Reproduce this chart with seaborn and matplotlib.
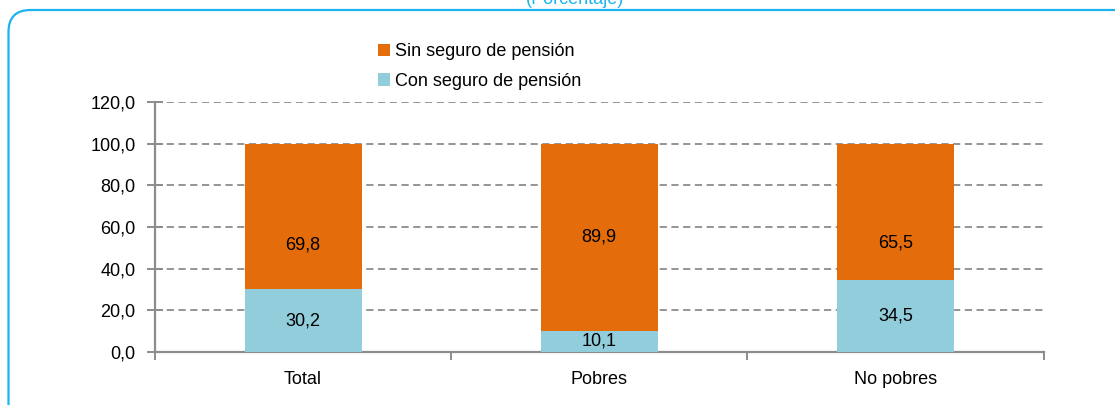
import matplotlib.pyplot as plt
import matplotlib.ticker as ticker
from matplotlib.patches import FancyBboxPatch
from matplotlib.transforms import IdentityTransform
import seaborn as sns
import pandas as pd

# data
categorias = ['Total', 'Pobres', 'No pobres']
con_seguro = [30.2, 10.1, 34.5]
sin_seguro = [69.8, 89.9, 65.5]

# label heights for the orange values (as placed in the original)
sin_label_y = [51.5, 55.0, 52.5]

df = pd.DataFrame({'cat': categorias, 'con': con_seguro, 'sin': sin_seguro})
df['total'] = df['con'] + df['sin']

naranja = '#E46C0A'
celeste = '#92CDDC'
gris = '#8C8C8C'
cian = '#1DB3EE'
fs = 13

sns.set_style('white')
plt.rcParams['font.family'] = ['Liberation Sans', 'DejaVu Sans']

fig = plt.figure(figsize=(11.15, 4.05), dpi=100)
ax = fig.add_axes([0.139, 0.131, 0.797, 0.617])

# stacked bars: full height in orange, lower part in blue
sns.barplot(data=df, x='cat', y='total', color=naranja, width=0.395,
            saturation=1, ax=ax, label='Sin seguro de pensión', zorder=3,
            linewidth=0)
sns.barplot(data=df, x='cat', y='con', color=celeste, width=0.395,
            saturation=1, ax=ax, label='Con seguro de pensión', zorder=3,
            linewidth=0)

# value labels
for i, row in df.iterrows():
    ax.text(i, row['con'] / 2, f"{row['con']:.1f}".replace('.', ','),
            ha='center', va='center', fontsize=fs, zorder=4, color='black')
    ax.text(i, sin_label_y[i], f"{row['sin']:.1f}".replace('.', ','),
            ha='center', va='center', fontsize=fs, zorder=4, color='black')

# axes
ax.set_xlim(-0.5, 2.5)
ax.set_ylim(0, 120)
ax.yaxis.set_major_locator(ticker.MultipleLocator(20))
ax.yaxis.set_major_formatter(ticker.FuncFormatter(lambda v, p: f'{v:.1f}'.replace('.', ',')))
ax.set_xlabel('')
ax.set_ylabel('')
ax.grid(axis='y', linestyle=(0, (4, 2.5)), color=gris, linewidth=1.3, zorder=0)
ax.set_axisbelow(True)

for s in ['top', 'right']:
    ax.spines[s].set_visible(False)
for s in ['left', 'bottom']:
    ax.spines[s].set_color(gris)
    ax.spines[s].set_linewidth(1.6)

ax.tick_params(axis='y', direction='inout', length=12, width=1.4, color=gris,
               labelsize=fs, pad=8, left=True, labelcolor='black')
ax.tick_params(axis='x', which='major', length=0, labelsize=fs, pad=14,
               labelcolor='black')
ax.set_xticks([-0.5, 0.5, 1.5, 2.5], minor=True)
ax.tick_params(axis='x', which='minor', direction='out', length=6, width=1.4,
               color=gris, bottom=True)

# legend (outside the axes, top)
h, l = ax.get_legend_handles_labels()
if ax.get_legend() is not None:
    ax.get_legend().remove()
leg = fig.legend(h, l, loc='upper left', bbox_to_anchor=(371 / 1115, 1 - 36 / 405),
                 frameon=False, fontsize=fs, handlelength=0.65, handleheight=0.65,
                 handletextpad=0.3, labelspacing=0.7, borderaxespad=0)
for t in leg.get_texts():
    t.set_color('black')

# rounded border and cut-off subtitle
borde = FancyBboxPatch((8.5, -30), 1140, 425, boxstyle='round,pad=0,rounding_size=22',
                       transform=IdentityTransform(), fill=False,
                       edgecolor=cian, linewidth=1.6)
fig.patches.append(borde)
fig.text(0.516, 1.0, '(Porcentaje)', ha='center', va='center', fontsize=fs, color=cian)

fig.savefig('out.png', dpi=100)
